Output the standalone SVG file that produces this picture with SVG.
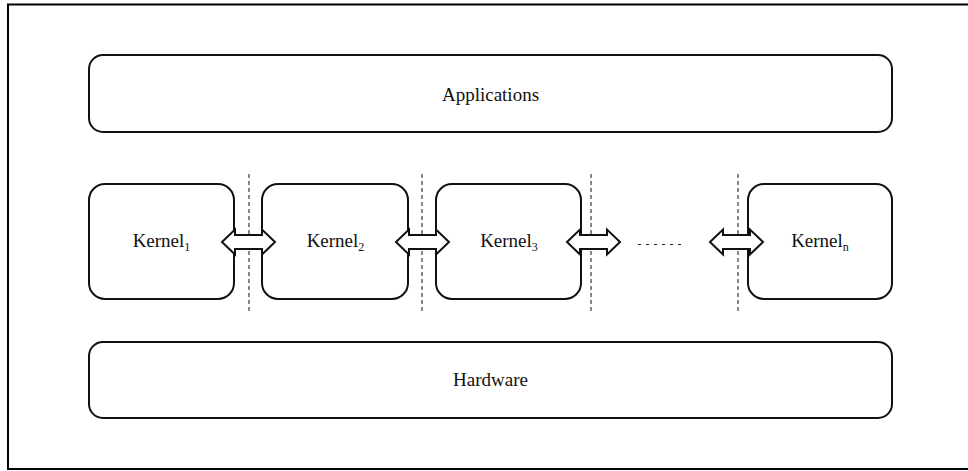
<svg xmlns="http://www.w3.org/2000/svg" width="968" height="471" viewBox="0 0 968 471">
<style>
.box{fill:#fff;stroke:#111;stroke-width:2}
.lbl{font-family:'Liberation Serif','Times New Roman','DejaVu Serif',serif;font-size:19px;fill:#111;text-anchor:middle}
.sub{font-size:12px}
.sep{stroke:#111;stroke-width:1;stroke-dasharray:4 3}
.arr{fill:#fff;stroke:#111;stroke-width:2;stroke-linejoin:miter}
</style>
<rect x="0" y="0" width="968" height="471" fill="#fff"/>
<rect x="8" y="4.5" width="980" height="464.5" fill="none" stroke="#000" stroke-width="2"/>
<g id="applications">
<rect class="box" x="89" y="55" width="803" height="77" rx="14"/>
<text class="lbl" font-family="Liberation Serif, serif" x="490.5" y="101">Applications</text>
</g>
<g id="hardware">
<rect class="box" x="89" y="342" width="803" height="76" rx="14"/>
<text class="lbl" font-family="Liberation Serif, serif" x="490.5" y="386">Hardware</text>
</g>
<g id="kernel1">
<rect class="box" x="89" y="184" width="145" height="115" rx="16"/>
<text class="lbl" font-family="Liberation Serif, serif" x="161.5" y="247">Kernel<tspan class="sub" dy="4">1</tspan></text>
</g>
<g id="kernel2">
<rect class="box" x="262" y="184" width="146" height="115" rx="16"/>
<text class="lbl" font-family="Liberation Serif, serif" x="335.5" y="247">Kernel<tspan class="sub" dy="4">2</tspan></text>
</g>
<g id="kernel3">
<rect class="box" x="436" y="184" width="145" height="115" rx="16"/>
<text class="lbl" font-family="Liberation Serif, serif" x="509" y="247">Kernel<tspan class="sub" dy="4">3</tspan></text>
</g>
<g id="kerneln">
<rect class="box" x="748" y="184" width="144" height="115" rx="16"/>
<text class="lbl" font-family="Liberation Serif, serif" x="820" y="247">Kernel<tspan class="sub" dy="4">n</tspan></text>
</g>
<g id="connectors">
<line class="sep" x1="249" y1="174" x2="249" y2="312"/>
<line class="sep" x1="422" y1="174" x2="422" y2="312"/>
<line class="sep" x1="591" y1="174" x2="591" y2="312"/>
<line class="sep" x1="738" y1="174" x2="738" y2="312"/>
<path class="arr" d="M222,242 L235,229.5 L235,235 L262,235 L262,229.5 L275,242 L262,254.5 L262,249 L235,249 L235,254.5 Z"/>
<path class="arr" d="M396,242 L409,229.5 L409,235 L436,235 L436,229.5 L449,242 L436,254.5 L436,249 L409,249 L409,254.5 Z"/>
<path class="arr" d="M567,242 L580,229.5 L580,235 L607,235 L607,229.5 L620,242 L607,254.5 L607,249 L580,249 L580,254.5 Z"/>
<path class="arr" d="M710,242 L723,229.5 L723,235 L750,235 L750,229.5 L763,242 L750,254.5 L750,249 L723,249 L723,254.5 Z"/>
<line x1="638" y1="244.5" x2="684" y2="244.5" stroke="#222" stroke-width="1" stroke-dasharray="3 5"/>
</g>
</svg>
